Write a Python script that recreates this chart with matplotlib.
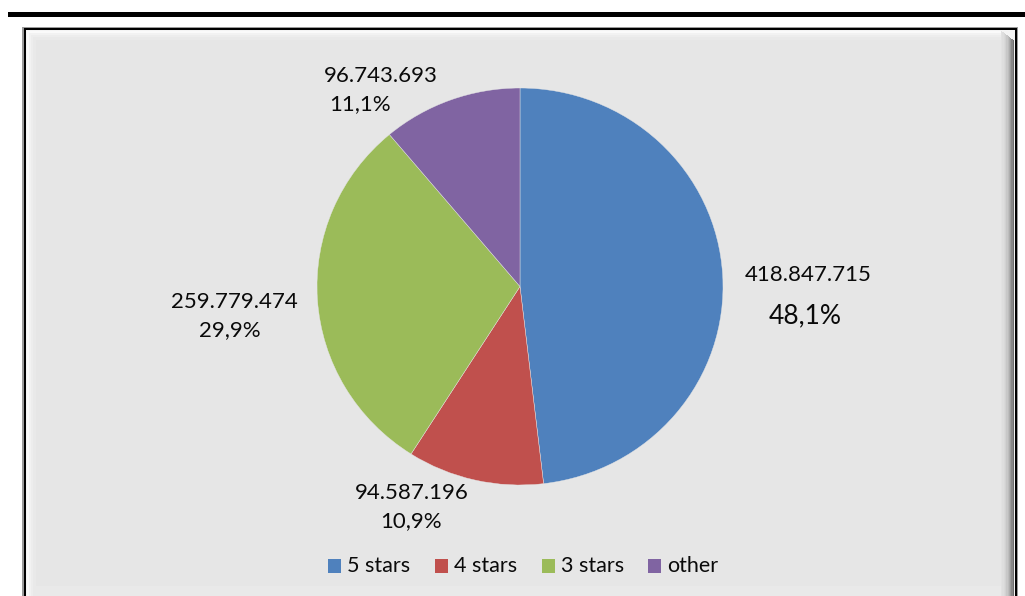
import matplotlib
matplotlib.use("Agg")
import matplotlib.pyplot as plt
from matplotlib.patches import Rectangle

# data
categories = ["5 stars", "4 stars", "3 stars", "other"]
values = [418847715, 94587196, 259779474, 96743693]
colors = ["#4F81BD", "#C0504D", "#9BBB59", "#8064A2"]

W, H = 1025, 596
plt.rcParams['font.family'] = ['Lato', 'DejaVu Sans']

fig = plt.figure(figsize=(W / 100, H / 100), dpi=100)
fig.patch.set_facecolor("white")


def px(x, y):
    # pixel coords (top-left origin) -> figure fraction
    return x / W, 1 - y / H


def rect(x0, y0, x1, y1, **kw):
    fig.patches.append(Rectangle((x0 / W, 1 - y1 / H), (x1 - x0) / W, (y1 - y0) / H,
                                 transform=fig.transFigure, **kw))


# top rule
rect(8, 12, 1025, 17, facecolor="black", edgecolor="none")

# chart box with bevel
rect(22, 27, 1018, 600, facecolor="#9A9A9A", edgecolor="none")
rect(24, 28, 1017, 600, facecolor="black", edgecolor="none")
rect(26, 30, 1015, 600, facecolor="#F4F4F4", edgecolor="none")
# right / bottom shadow gradient
shade = ["#6E6E6E", "#888888", "#9C9C9C", "#AEAEAE", "#BDBDBD",
         "#C8C8C8", "#D2D2D2", "#D9D9D9", "#DEDEDE", "#E2E2E2"]
for i, c in enumerate(shade):
    rect(1001, 40 - i, 1014 - i * 1.3, 600, facecolor=c, edgecolor="none")
for i, c in enumerate(["#B0B0B0", "#C4C4C4", "#D2D2D2", "#DCDCDC", "#E1E1E1"]):
    rect(36, 586 + i * 2, 1001, 600, facecolor=c, edgecolor="none")
# light top / left band
for i, c in enumerate(["#FAFAFA", "#F2F2F2", "#EDEDED", "#E9E9E9"]):
    rect(27 + i * 2, 31 + i * 2, 1001, 600, facecolor=c, edgecolor="none")
rect(36, 40, 1001, 586, facecolor="#E6E6E6", edgecolor="none")

# pie (slightly wider than tall, like the source)
rx, ry = 203, 198.5
cx, cy = 520, 286.5
ax = fig.add_axes([(cx - rx) / W, (H - cy - ry) / H, 2 * rx / W, 2 * ry / H])
ax.set_zorder(5)
ax.patch.set_visible(False)
ax.pie(values, colors=colors, startangle=90, counterclock=False,
       wedgeprops=dict(edgecolor="#E6E6E6", linewidth=0.3))
ax.set_xlim(-1, 1)
ax.set_ylim(-1, 1)
ax.set_aspect("auto")
ax.axis("off")

# labels
total = sum(values)
val_pos = [(808, 275), (412, 493), (234, 302), (381, 76)]
pct_pos = [(805, 316), (411, 521), (230, 330), (360, 104)]
pct_size = [19, 16, 16, 16]
for v, p1, p2, s in zip(values, val_pos, pct_pos, pct_size):
    vtxt = f"{v:,}".replace(",", ".")
    ptxt = f"{v / total * 100:.1f}%".replace(".", ",")
    fig.text(*px(*p1), vtxt, ha="center", va="center", fontsize=16, color="#0A0A0A")
    fig.text(*px(*p2), ptxt, ha="center", va="center", fontsize=s, color="#0A0A0A")

# legend
leg_x = [334, 441, 548, 654]
for name, c, x in zip(categories, colors, leg_x):
    rect(x - 6, 559, x + 7, 573, facecolor=c, edgecolor="none")
    fig.text(*px(x + 13, 566), name, ha="left", va="center", fontsize=15.5, color="#0A0A0A")

fig.savefig("out.png", dpi=100)
